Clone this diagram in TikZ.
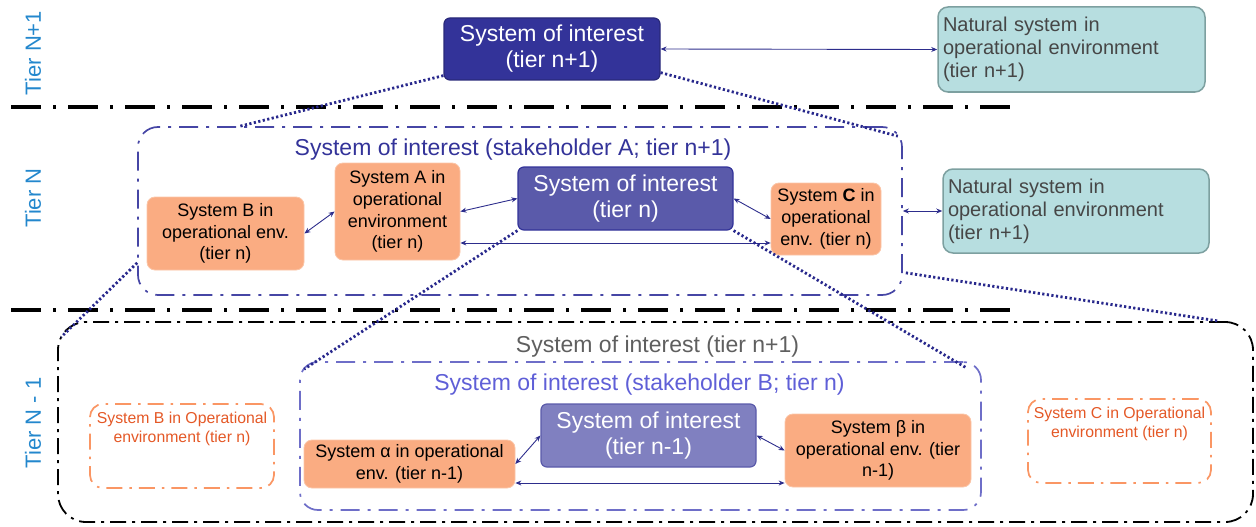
\documentclass[tikz,border=0pt]{standalone}
\usepackage{fontspec}
\setmainfont{Liberation Sans}
\usetikzlibrary{arrows.meta,calc}
\definecolor{tierblue}{RGB}{35,135,205}
\definecolor{navy}{RGB}{51,51,153}
\definecolor{soinc}{RGB}{90,90,170}
\definecolor{soimc}{RGB}{128,128,192}
\definecolor{orangefill}{RGB}{250,172,130}
\definecolor{natfill}{RGB}{183,222,224}
\definecolor{natborder}{RGB}{125,160,160}
\definecolor{arrowblue}{RGB}{45,45,140}
\definecolor{dotblue}{RGB}{40,40,140}
\definecolor{stakeAc}{RGB}{70,70,165}
\definecolor{stakeBc}{RGB}{110,110,200}
\definecolor{stakeBtext}{RGB}{95,95,215}
\definecolor{graytext}{RGB}{95,95,95}
\definecolor{nattext}{RGB}{70,70,70}
\definecolor{orangeline}{RGB}{250,150,100}
\definecolor{orangetext}{RGB}{228,88,38}
\begin{document}
\begin{tikzpicture}[x=1pt,y=-1pt,
  soibox/.style={rounded corners=6pt, inner sep=0pt, align=center, text=white,
    font=\fontsize{23}{26}\selectfont, line width=1.2pt},
  orangebox/.style={fill=orangefill, draw=orangefill!70!white, rounded corners=8pt,
    align=center, inner sep=0pt, font=\fontsize{18}{21.7}\selectfont, line width=0.8pt},
  natbox/.style={fill=natfill, draw=natborder, line width=1.5pt, rounded corners=10pt,
    align=left, text=nattext, inner sep=0pt, font=\fontsize{20}{23}\selectfont},
  tierlabel/.style={rotate=90, text=tierblue, font=\fontsize{22}{26}\selectfont},
  container/.style={rounded corners=20pt, inner sep=0pt, line width=1.7pt},
  twoway/.style={{Stealth[length=6pt,width=5pt]}-{Stealth[length=6pt,width=5pt]},
    draw=arrowblue, line width=0.9pt},
  dotline/.style={draw=dotblue, line width=2.8pt, dash pattern=on 2.2pt off 2.4pt},
  sepline/.style={draw=black, line width=3.4pt, dash pattern=on 30pt off 12pt on 3pt off 12pt},
  orangedash/.style={draw=orangeline, line width=1.7pt, rounded corners=13pt,
    dash pattern=on 16pt off 7pt on 2.5pt off 7pt, inner sep=0pt},
  orangelabel/.style={text=orangetext, align=center, font=\fontsize{15.8}{19}\selectfont},
]
\useasboundingbox (0,0) rectangle (1256,527);

% tier labels
\node[tierlabel] (t1) at (33,53) {Tier N+1};
\node[tierlabel] (t2) at (33,198) {Tier N};
\node[tierlabel] (t3) at (33,423) {Tier N - 1};

% separator lines
\coordinate (s1a) at (11,107);
\coordinate (s1b) at (1012,107);
\coordinate (s2a) at (11,310);
\coordinate (s2b) at (1012,310);
\draw[sepline] (s1a) -- (s1b);
\draw[sepline] (s2a) -- (s2b);

% containers
\node[container, draw=stakeAc, dash pattern=on 19pt off 8pt on 3pt off 8pt,
  minimum width=764pt, minimum height=168pt] (tierN) at (520,211) {};
\node[container, draw=black, rounded corners=28pt, line width=1.8pt,
  dash pattern=on 16pt off 6pt on 3pt off 6pt,
  minimum width=1195pt, minimum height=200pt] (tierN1) at (655.5,422) {};
\node[container, draw=stakeBc, rounded corners=18pt,
  dash pattern=on 19pt off 8pt on 3pt off 8pt,
  minimum width=681pt, minimum height=148pt] (stakeB) at (640.5,436) {};

% titles
\node[text=navy, font=\fontsize{23}{26}\selectfont] (titleA) at (513,150)
  {System of interest (stakeholder A; tier n+1)};
\node[text=graytext, font=\fontsize{23}{26}\selectfont] (titleN1) at (657.5,347)
  {System of interest (tier n+1)};
\node[text=stakeBtext, font=\fontsize{23}{26}\selectfont] (titleB) at (639.5,385)
  {System of interest (stakeholder B; tier n)};

% tier N+1
\node[soibox, fill=navy, draw=navy!80!black, minimum width=216pt, minimum height=62pt]
  (topsoi) at (552,49) {System of interest\\(tier n+1)};
\node[natbox, minimum width=267pt, minimum height=85pt, text width=257pt]
  (nat1) at (1071.5,49.5) {Natural system in\\operational environment\\(tier n+1)};

% tier N
\node[orangebox, minimum width=157pt, minimum height=73pt] (sysB) at (225.5,233.5)
  {System B in\\operational env.\\(tier n)};
\node[orangebox, minimum width=125pt, minimum height=97pt] (sysA) at (397.5,211.5)
  {System A in\\operational\\environment\\(tier n)};
\node[soibox, fill=soinc, draw=navy, minimum width=215pt, minimum height=63pt]
  (soin) at (625.5,198.5) {System of interest\\(tier n)};
\node[orangebox, minimum width=110pt, minimum height=72pt] (sysC) at (826,219)
  {System \textbf{C} in\\operational\\env. (tier n)};
\node[natbox, minimum width=266pt, minimum height=84pt, text width=256pt]
  (nat2) at (1076,211) {Natural system in\\operational environment\\(tier n+1)};

% tier N-1
\node[orangedash, minimum width=184pt, minimum height=84pt] (oB) at (182,446) {};
\node[orangelabel] (oBt) at (182,429)
  {System B in Operational\\environment (tier n)};
\node[orangedash, minimum width=183pt, minimum height=84pt] (oC) at (1119.5,441) {};
\node[orangelabel] (oCt) at (1119.5,423.5)
  {System C in Operational\\environment (tier n)};
\node[soibox, fill=soimc, draw=soinc, minimum width=215pt, minimum height=63pt]
  (soim) at (648.5,435.5) {System of interest\\(tier n-1)};
\node[orangebox, minimum width=211pt, minimum height=48pt] (alpha) at (409.5,464)
  {System α in operational\\env. (tier n-1)};
\node[orangebox, minimum width=186pt, minimum height=73pt] (beta) at (878,450.5)
  {System β in\\operational env. (tier\\n-1)};

% arrows
\draw[twoway] (topsoi.east) -- (nat1.west);
\draw[twoway] (sysB.east) -- (sysA.west);
\draw[twoway] (sysA.east) -- (soin.west);
\draw[twoway] (soin.east) -- (sysC.west);
\draw[twoway] ($(sysA.east)+(0,31.5)$) -- ($(sysC.west)+(0,24)$);
\draw[twoway] (tierN.east) -- (nat2.west);
\draw[twoway] (alpha.east) -- (soim.west);
\draw[twoway] (soim.east) -- (beta.west);
\draw[twoway] ($(alpha.east)+(0,19)$) -- ($(beta.west)+(0,32.5)$);

% dotted zoom lines
\draw[dotline] ([yshift=5pt]topsoi.south west) -- ($(tierN.north west)+(103,0)$);
\draw[dotline] ([yshift=8pt]topsoi.south east) -- ($(tierN.north east)+(-5,10)$);
\draw[dotline] ($(tierN.south west)+(0,-33)$) -- ($(tierN1.north west)+(4,16)$);
\draw[dotline] (soin.south west) -- ($(stakeB.north west)+(5,8)$);
\draw[dotline] (soin.south east) -- ($(stakeB.north east)+(-15,7)$);
\draw[dotline] ($(tierN.south east)+(3,-23)$) -- ($(tierN1.north east)+(-35,0)$);
\end{tikzpicture}
\end{document}
